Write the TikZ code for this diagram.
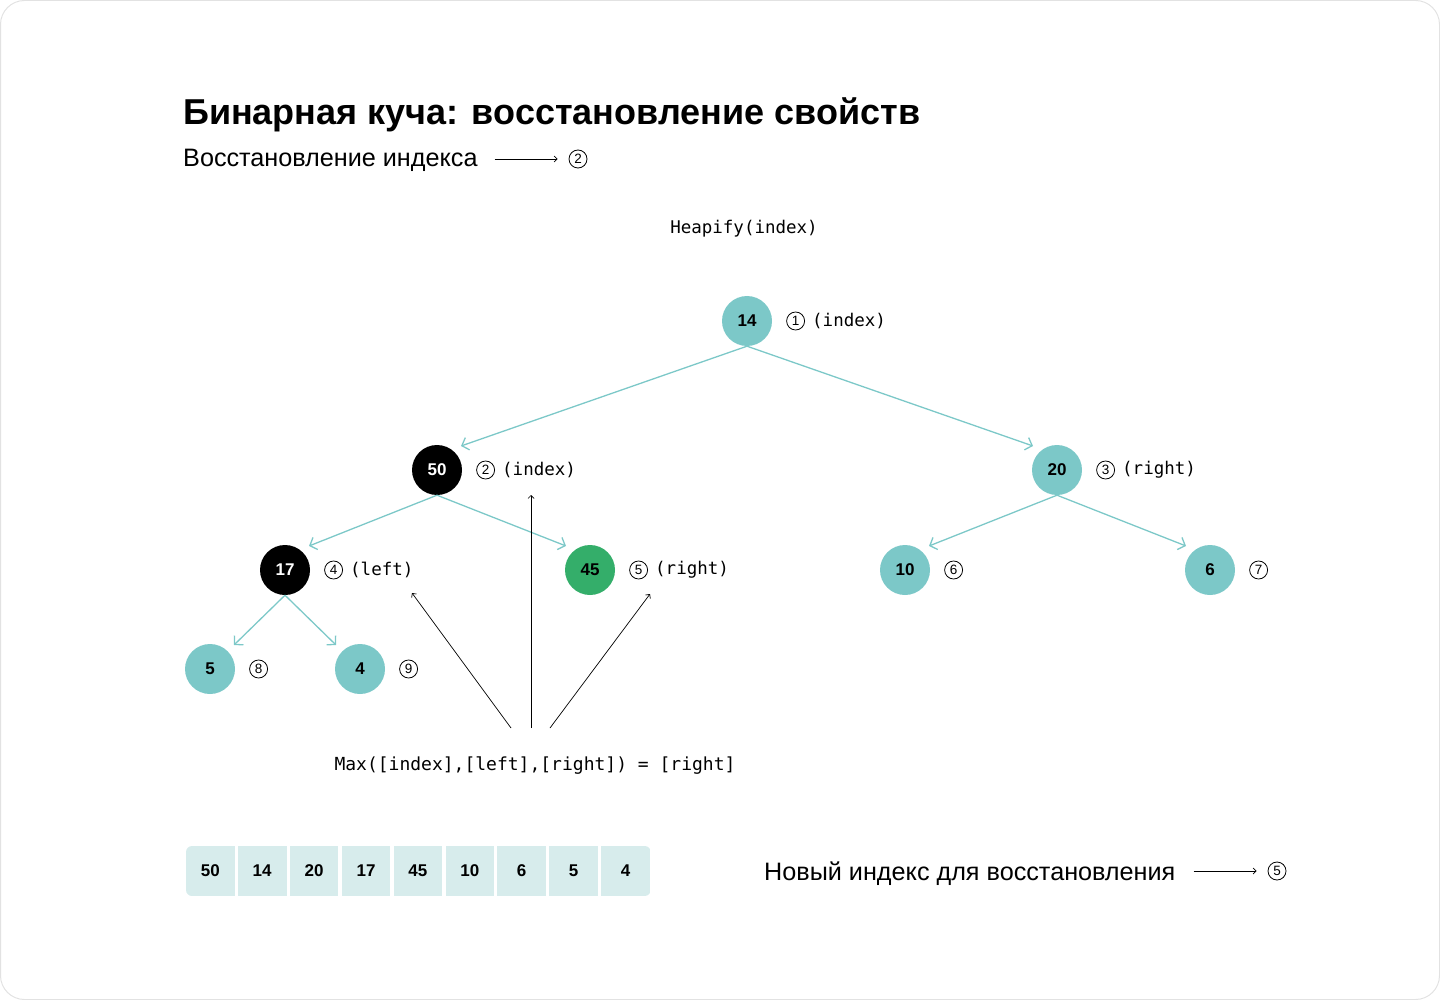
\documentclass[tikz,border=0pt]{standalone}
\usepackage{fontspec}
\setmainfont{Liberation Sans}
\newfontfamily\monofont{DejaVu Sans Mono}
\usetikzlibrary{arrows.meta, positioning, calc}
\definecolor{heapteal}{HTML}{7CC8C8}
\definecolor{heapgreen}{HTML}{34AE6A}
\definecolor{cellfill}{HTML}{D7ECEC}
\definecolor{framegray}{HTML}{E2E2E2}

\begin{document}
\begin{tikzpicture}[x=1pt, y=-1pt,
  key/.style={circle, minimum size=50pt, inner sep=0pt, font=\fontsize{17}{17}\selectfont\bfseries},
  tealkey/.style={key, fill=heapteal},
  blackkey/.style={key, fill=black, text=white},
  greenkey/.style={key, fill=heapgreen},
  num/.style={circle, draw, line width=0.8pt, minimum size=18pt, inner sep=0pt, font=\fontsize{13.5}{13.5}\selectfont},
  lbl/.style={font=\monofont\fontsize{17.5}{18}\selectfont, inner sep=0pt},
  link/.style={heapteal, line width=1.3pt, -{Straight Barb[length=6pt, width=13pt]}},
  pointer/.style={black, line width=0.7pt, -{Straight Barb[length=3pt, width=6pt]}},
  cell/.style={rectangle, fill=cellfill, minimum width=48.6pt, minimum height=50pt, inner sep=0pt, font=\fontsize{17}{17}\selectfont\bfseries}]

\useasboundingbox (0,0) rectangle (1440,1000);
\draw[framegray, line width=1pt, rounded corners=24pt] (0.5,0.5) rectangle (1439.5,999.5);

\node[anchor=base west, inner sep=0pt, font=\fontsize{36}{40}\selectfont\bfseries] (title) at (183,125) {Бинарная куча: восстановление свойств};
\node[anchor=base west, inner sep=0pt, font=\fontsize{25.2}{28}\selectfont] (sub) at (183,167) {Восстановление индекса};
\node[num] (s2) at (578,159) {2};
\coordinate (sa) at ([xshift=-74pt]s2.west);
\draw[pointer] (sa) -- ([xshift=-11pt]s2.west);

\node[lbl] (call) at (744,229) {Heapify(index)};

\node[tealkey] (n14) at (747,321) {14};
\node[blackkey] (n50) at (437,470) {50};
\node[tealkey] (n20) at (1057,470) {20};
\node[blackkey] (n17) at (285,570) {17};
\node[greenkey] (n45) at (590,570) {45};
\node[tealkey] (n10) at (905,570) {10};
\node[tealkey] (n6) at (1210,570) {6};
\node[tealkey] (n5) at (210,669) {5};
\node[tealkey] (n4) at (360,669) {4};

\node[num, right=14pt of n14] (c1) {1};
\node[lbl, right=7pt of c1] (l1) {(index)};
\node[num, right=14pt of n50] (c2) {2};
\node[lbl, right=7pt of c2] (l2) {(index)};
\node[num, right=14pt of n20] (c3) {3};
\node[lbl, right=7pt of c3] (l3) {(right)};
\node[num, right=14pt of n17] (c4) {4};
\node[lbl, right=7pt of c4] (l4) {(left)};
\node[num, right=14pt of n45] (c5) {5};
\node[lbl, right=7pt of c5] (l5) {(right)};
\node[num, right=14pt of n10] (c6) {6};
\node[num, right=14pt of n6] (c7) {7};
\node[num, right=14pt of n5] (c8) {8};
\node[num, right=14pt of n4] (c9) {9};

\draw[link] (n14.south) -- ($(n50)+(24,-24)$);
\draw[link] (n14.south) -- ($(n20)+(-24,-24)$);
\draw[link] (n50.south) -- ($(n17)+(24,-24)$);
\draw[link] (n50.south) -- ($(n45)+(-24,-24)$);
\draw[link] (n20.south) -- ($(n10)+(24,-24)$);
\draw[link] (n20.south) -- ($(n6)+(-24,-24)$);
\draw[link] (n17.south) -- ($(n5)+(24,-24)$);
\draw[link] (n17.south) -- ($(n4)+(-24,-24)$);

\node[lbl, font=\monofont\fontsize{18}{18}\selectfont] (max) at (535,766) {Max([index],[left],[right]) = [right]};
\coordinate (m1) at (511,728);
\coordinate (m2) at (531,728);
\coordinate (m3) at (550,728);
\coordinate (t1) at (412,593);
\coordinate (t2) at (531,495);
\coordinate (t3) at (650,594);
\draw[pointer] (m1) -- (t1);
\draw[pointer] (m2) -- (t2);
\draw[pointer] (m3) -- (t3);

\begin{scope}
\clip[rounded corners=6pt] (186,846) rectangle (650.7,896);
\foreach \v [count=\i] in {50,14,20,17,45,10,6,5,4}
  \node[cell] (a\i) at ({210.3+(\i-1)*51.9},871) {\v};
\end{scope}

\node[anchor=base west, inner sep=0pt, font=\fontsize{25.2}{28}\selectfont] (new) at (764,880) {Новый индекс для восстановления};
\node[num] (s5) at (1277,871) {5};
\coordinate (na) at ([xshift=-74pt]s5.west);
\draw[pointer] (na) -- ([xshift=-11pt]s5.west);
\end{tikzpicture}
\end{document}
